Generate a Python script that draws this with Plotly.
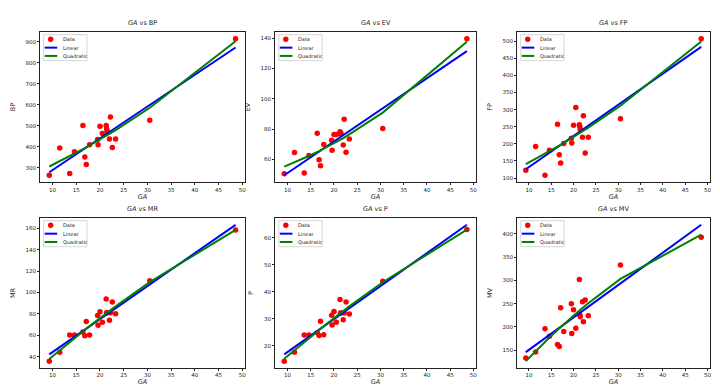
import numpy as np
import plotly.graph_objects as go
from plotly.subplots import make_subplots

# ---- data ----
GA = [9.3, 11.5, 13.6, 14.6, 16.4, 16.8, 17.1, 17.8, 19.5, 19.6, 20.0, 20.5,
      21.3, 21.4, 21.5, 22.0, 22.2, 22.6, 23.3, 30.5, 48.6]
BP = [265, 395, 273, 377, 501, 352, 316, 410, 435, 410, 498, 463,
      502, 486, 475, 437, 542, 397, 437, 526, 914]
EV = [50.6, 64.6, 51.0, 62.6, 77.3, 59.8, 55.8, 69.9, 72.7, 66.1, 76.4, 76.4,
      78.2, 76.8, 77.3, 69.6, 86.5, 64.8, 73.4, 80.4, 139.5]
FP = [123, 192, 108, 181, 257, 168, 144, 201, 216, 202, 254, 306,
      256, 250, 242, 219, 282, 173, 219, 273, 507]
MR = [35.7, 44.0, 60.1, 60.1, 62.9, 59.4, 72.7, 60.1, 78.4, 69.4, 82.0, 72.0,
      93.8, 80.9, 81.0, 74.0, 80.9, 91.0, 80.0, 111.0, 158.5]
P = [14.2, 17.5, 23.9, 23.9, 24.8, 23.7, 29.0, 24.0, 31.3, 27.6, 32.7, 28.7,
     37.1, 32.1, 32.1, 29.6, 32.1, 36.2, 31.7, 43.9, 63.1]
MV = [133, 146, 196, 180, 162, 158, 241, 190, 250, 186, 237, 197,
      302, 226, 222, 254, 211, 258, 224, 333, 393]

TARGET_NAMES = ["BP", "EV", "FP", "MR", "P", "MV"]
TARGETS = [BP, EV, FP, MR, P, MV]
Y_DTICKS = [100, 20, 50, 20, 10, 50]
LEGEND_LABELS = ["Data", "Linear", "Quadratic"]

# ---- layout geometry ----
X_DOMAINS = [(0.0444, 0.329), (0.371, 0.650), (0.707, 0.975)]
Y_DOMAINS = [(0.549, 0.938), (0.0674, 0.456)]
FONT = "DejaVu Sans"

fig = make_subplots(rows=2, cols=3)

ga = np.array(GA)
order = np.argsort(ga)
gx = ga[order]

for i, (name, vals) in enumerate(zip(TARGET_NAMES, TARGETS)):
    r, c = i // 3 + 1, i % 3 + 1
    y = np.array(vals, dtype=float)
    lin = np.polyval(np.polyfit(ga, y, 1), gx)
    quad = np.polyval(np.polyfit(ga, y, 2), gx)

    fig.add_trace(go.Scatter(x=GA, y=vals, mode="markers", name=LEGEND_LABELS[0],
                             marker=dict(color="red", size=5.5), showlegend=False),
                  row=r, col=c)
    fig.add_trace(go.Scatter(x=gx, y=lin, mode="lines", name=LEGEND_LABELS[1],
                             line=dict(color="blue", width=2), showlegend=False),
                  row=r, col=c)
    fig.add_trace(go.Scatter(x=gx, y=quad, mode="lines", name=LEGEND_LABELS[2],
                             line=dict(color="green", width=2), showlegend=False),
                  row=r, col=c)

    allx = ga
    ally = np.concatenate([y, lin, quad])
    xm = 0.05 * (allx.max() - allx.min())
    ym = 0.05 * (ally.max() - ally.min())

    axis_common = dict(showline=True, mirror=True, linecolor="#222", linewidth=0.8,
                       ticks="outside", ticklen=2, tickwidth=0.8, tickcolor="#222",
                       tickfont=dict(size=5.5, color="#222", family=FONT),
                       showgrid=False, zeroline=False)
    fig.update_xaxes(range=[allx.min() - xm, allx.max() + xm], dtick=5, tick0=0,
                     domain=X_DOMAINS[c - 1],
                     title=dict(text="<i>GA</i>", font=dict(size=6.5, color="#222", family=FONT),
                                standoff=1),
                     row=r, col=c, **axis_common)
    fig.update_yaxes(range=[ally.min() - ym, ally.max() + ym], dtick=Y_DTICKS[i], tick0=0,
                     domain=Y_DOMAINS[r - 1],
                     title=dict(text=name, font=dict(size=6.5, color="#222", family=FONT),
                                standoff=9),
                     row=r, col=c, **axis_common)

    xr = "x" if i == 0 else f"x{i+1}"
    yr = "y" if i == 0 else f"y{i+1}"
    xd, yd = xr + " domain", yr + " domain"

    # subplot title
    fig.add_annotation(text=f"<i>GA</i> vs {name}", xref=xd, yref=yd, x=0.5, y=1,
                       xanchor="center", yanchor="bottom", yshift=3, showarrow=False,
                       font=dict(size=6.5, color="#222", family=FONT))

    # legend (drawn in pixel offsets from the axes' upper-left corner)
    pix = dict(xref=xd, yref=yd, xsizemode="pixel", ysizemode="pixel",
               xanchor=0, yanchor=1, layer="above")
    fig.add_shape(type="rect", x0=3.7, x1=47, y0=-2.7, y1=-28.7,
                  line=dict(color="#cccccc", width=0.8),
                  fillcolor="rgba(255,255,255,0.85)", **pix)
    fig.add_shape(type="circle", x0=8.0, x1=13.4, y0=-4.6, y1=-10.0,
                  line=dict(color="red", width=0), fillcolor="red", **pix)
    fig.add_shape(type="line", x0=4.7, x1=17.3, y0=-15.7, y1=-15.7,
                  line=dict(color="blue", width=2), **pix)
    fig.add_shape(type="line", x0=4.7, x1=17.3, y0=-24.0, y1=-24.0,
                  line=dict(color="green", width=2), **pix)
    for k, (lab, dy) in enumerate(zip(LEGEND_LABELS, [-7.3, -15.7, -24.0])):
        fig.add_annotation(text=lab, xref=xd, yref=yd, x=0, y=1, xanchor="left",
                           yanchor="middle", xshift=20.7, yshift=dy, showarrow=False,
                           font=dict(size=5, color="#222", family=FONT))

fig.update_layout(width=720, height=386, margin=dict(l=0, r=0, t=0, b=0),
                  paper_bgcolor="white", plot_bgcolor="white", showlegend=False,
                  font=dict(family=FONT))

fig.write_html("out.html")
